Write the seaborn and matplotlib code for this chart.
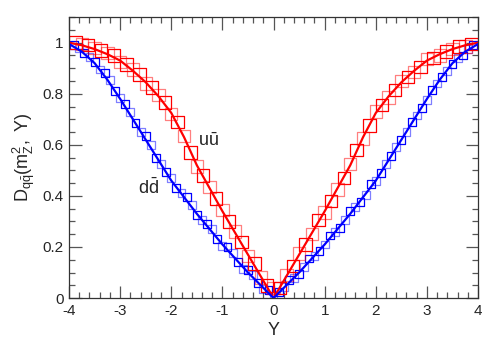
import numpy as np
import pandas as pd
import matplotlib
matplotlib.use('Agg')
import matplotlib.pyplot as plt
import seaborn as sns
from matplotlib.ticker import MultipleLocator, FormatStrFormatter

sns.set_style('ticks')
plt.rcParams['font.family'] = ['Liberation Sans', 'DejaVu Sans']
plt.rcParams['mathtext.fontset'] = 'custom'
plt.rcParams['mathtext.rm'] = 'Liberation Sans'
plt.rcParams['mathtext.it'] = 'Liberation Sans:italic'
plt.rcParams['axes.unicode_minus'] = False

# --- curves (|Y| grid, symmetric around 0) ---
y_abs = [0.0, 0.25, 0.5, 0.75, 1.0, 1.25, 1.5, 1.75, 2.0, 2.25, 2.5, 2.75,
         3.0, 3.25, 3.5, 3.75, 4.0]
d_uu = [0.0, 0.085, 0.17, 0.255, 0.34, 0.43, 0.52, 0.63, 0.725, 0.79, 0.845,
        0.89, 0.93, 0.955, 0.975, 0.99, 1.0]
d_dd = [0.0, 0.05, 0.1, 0.155, 0.21, 0.27, 0.33, 0.395, 0.46, 0.54, 0.62,
        0.70, 0.78, 0.855, 0.92, 0.965, 0.995]

# --- red boxes (u ubar), two overlaid samples ---
u1_y = [-3.875, -3.625, -3.375, -3.125, -2.875, -2.625, -2.375, -2.125,
        -1.875, -1.625, -1.375, -1.125, -0.875, -0.625, -0.375, -0.125,
        0.125, 0.375, 0.625, 0.875, 1.125, 1.375, 1.625, 1.875,
        2.125, 2.375, 2.625, 2.875, 3.125, 3.375, 3.625, 3.875]
u1_v = [1.0, 0.99, 0.97, 0.95, 0.915, 0.875, 0.825, 0.765,
        0.69, 0.57, 0.48, 0.39, 0.30, 0.22, 0.135, 0.05,
        0.04, 0.125, 0.21, 0.305, 0.38, 0.47, 0.58, 0.675,
        0.755, 0.815, 0.865, 0.905, 0.94, 0.965, 0.985, 0.995]
u2_y = [-3.75, -3.5, -3.25, -3.0, -2.75, -2.5, -2.25, -2.0, -1.75, -1.5,
        -1.25, -1.0, -0.75, -0.5, -0.25, 0.0, 0.25, 0.5, 0.75, 1.0, 1.25,
        1.5, 1.75, 2.0, 2.25, 2.5, 2.75, 3.0, 3.25, 3.5, 3.75]
u2_v = [0.995, 0.98, 0.96, 0.925, 0.895, 0.84, 0.795, 0.72, 0.635, 0.515,
        0.435, 0.345, 0.26, 0.165, 0.08, 0.04, 0.09, 0.175, 0.25, 0.335, 0.425,
        0.525, 0.625, 0.73, 0.785, 0.85, 0.885, 0.935, 0.95, 0.975, 0.985]

# --- blue boxes (d dbar), two overlaid samples ---
d1_y = [-3.9, -3.7, -3.5, -3.3, -3.1, -2.9, -2.7, -2.5, -2.3, -2.1,
        -1.9, -1.7, -1.5, -1.3, -1.1, -0.9, -0.7, -0.5, -0.3, -0.1,
        0.1, 0.3, 0.5, 0.7, 0.9, 1.1, 1.3, 1.5, 1.7, 1.9,
        2.1, 2.3, 2.5, 2.7, 2.9, 3.1, 3.3, 3.5, 3.7, 3.9]
d1_v = [0.99, 0.96, 0.925, 0.88, 0.81, 0.76, 0.685, 0.635, 0.55, 0.495,
        0.43, 0.395, 0.325, 0.29, 0.23, 0.2, 0.14, 0.11, 0.06, 0.03,
        0.025, 0.07, 0.095, 0.155, 0.185, 0.245, 0.275, 0.34, 0.375, 0.445,
        0.49, 0.555, 0.62, 0.69, 0.745, 0.815, 0.865, 0.915, 0.95, 0.99]
d2_y = [-3.8, -3.6, -3.4, -3.2, -3.0, -2.8, -2.6, -2.4, -2.2, -2.0,
        -1.8, -1.6, -1.4, -1.2, -1.0, -0.8, -0.6, -0.4, -0.2, 0.0,
        0.2, 0.4, 0.6, 0.8, 1.0, 1.2, 1.4, 1.6, 1.8, 2.0,
        2.2, 2.4, 2.6, 2.8, 3.0, 3.2, 3.4, 3.6, 3.8]
d2_v = [0.98, 0.945, 0.895, 0.855, 0.785, 0.73, 0.65, 0.6, 0.525, 0.47,
        0.41, 0.365, 0.305, 0.27, 0.205, 0.175, 0.115, 0.09, 0.035, 0.01,
        0.045, 0.08, 0.12, 0.165, 0.21, 0.26, 0.305, 0.355, 0.405, 0.46,
        0.525, 0.59, 0.65, 0.715, 0.775, 0.84, 0.89, 0.94, 0.975]

# symmetric curve table
ys = [-v for v in y_abs[::-1]] + y_abs[1:]
curves = pd.DataFrame({
    'Y': ys + ys,
    'D': d_uu[::-1] + d_uu[1:] + d_dd[::-1] + d_dd[1:],
    'q': ['uu'] * len(ys) + ['dd'] * len(ys),
})

fig = plt.figure(figsize=(4.98, 3.43), dpi=100)
ax = fig.add_axes([0.1386, 0.131, 0.8214, 0.819])

# boxes
sns.scatterplot(x=d2_y, y=d2_v, ax=ax, marker='s', s=32, fc='none', ec=(0, 0, 1, 0.5), lw=0.9)
sns.scatterplot(x=d1_y, y=d1_v, ax=ax, marker='s', s=32, fc='none', ec='#0000ff', lw=0.9)
sns.scatterplot(x=u2_y, y=u2_v, ax=ax, marker='s', s=80, fc='none', ec=(1, 0, 0, 0.5), lw=0.9)
sns.scatterplot(x=u1_y, y=u1_v, ax=ax, marker='s', s=80, fc='none', ec='#ff0000', lw=0.9)

sns.lineplot(data=curves, x='Y', y='D', hue='q', palette={'uu': '#ff0000', 'dd': '#0000ff'},
             lw=1.6, ax=ax, legend=False, sort=False)

ax.set_xlim(-4, 4)
ax.set_ylim(0, 1.1)
ax.xaxis.set_major_locator(MultipleLocator(1))
ax.xaxis.set_minor_locator(MultipleLocator(0.2))
ax.yaxis.set_major_locator(MultipleLocator(0.2))
ax.yaxis.set_minor_locator(MultipleLocator(0.05))
ax.yaxis.set_major_formatter(FormatStrFormatter('%g'))
ax.set_yticks([0, 0.2, 0.4, 0.6, 0.8, 1.0])
ax.tick_params(which='both', direction='in', top=True, right=True, color='#555555',
               labelsize=11, pad=4)
ax.tick_params(which='major', length=9, width=0.9)
ax.tick_params(which='minor', length=4.5, width=0.9)
for s in ax.spines.values():
    s.set_color('#333333')
    s.set_linewidth(0.9)

ax.set_xlabel('Y', fontsize=13, labelpad=3)
ax.set_ylabel(r'$\mathrm{D_{q\bar{q}}(m_Z^2,\ Y)}$', fontsize=13, labelpad=4)

ax.text(-1.28, 0.615, r'$\mathrm{u\bar{u}}$', fontsize=13, ha='center', va='center')
ax.text(-2.44, 0.43, r'$\mathrm{d\bar{d}}$', fontsize=13, ha='center', va='center')

fig.savefig('out.png', dpi=100)
